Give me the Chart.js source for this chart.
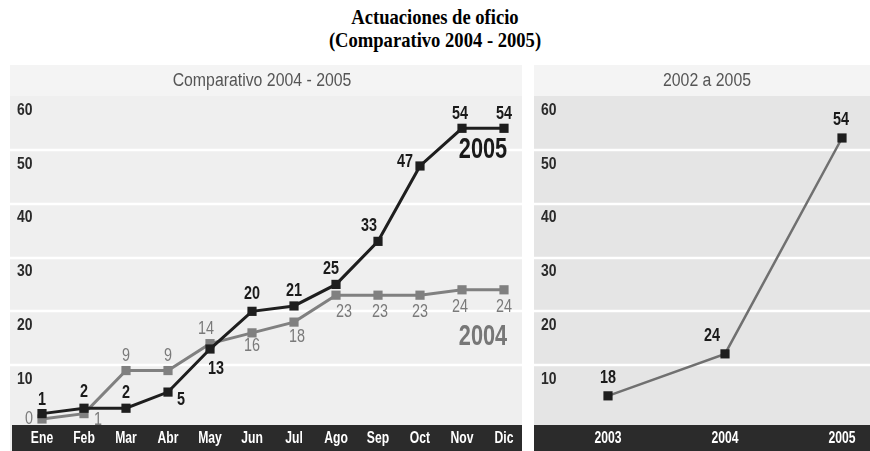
<!DOCTYPE html>
<html>
<head>
<meta charset="utf-8">
<script src="https://cdn.jsdelivr.net/npm/chart.js@4.4.1/dist/chart.umd.min.js"></script>
<style>
  html, body { margin: 0; padding: 0; background: #ffffff; }
  body { width: 870px; height: 451px; position: relative; overflow: hidden; }
  #title { position: absolute; left: 0; top: 5px; width: 870px; text-align: center;
    font-family: "Liberation Serif", "Times New Roman", serif; font-weight: bold;
    font-size: 22px; line-height: 23px; color: #000; transform: scaleX(0.845); transform-origin: 435px 0; }
  canvas { position: absolute; }
  #c1 { left: 10px; top: 65px; }
  #c2 { left: 534px; top: 65px; }
</style>
</head>
<body>
<div id="title">Actuaciones de oficio<br>(Comparativo 2004 - 2005)</div>
<canvas id="c1" width="512" height="386" style="width:512px;height:386px"></canvas>
<canvas id="c2" width="336" height="386" style="width:336px;height:386px"></canvas>
<script>
// ---- data ----
const months = ['Ene','Feb','Mar','Abr','May','Jun','Jul','Ago','Sep','Oct','Nov','Dic'];
const values2005 = [1, 2, 2, 5, 13, 20, 21, 25, 33, 47, 54, 54];
const values2004 = [0, 1, 9, 9, 14, 16, 18, 23, 23, 23, 24, 24];
const yTicks = [10, 20, 30, 40, 50, 60];
const years = ['2003', '2004', '2005'];
// heights at which the yearly points are drawn in the reference
const yearValues = [4.3, 12.1, 52.2];
// texts printed next to the yearly points
const yearLabels = ['18', '24', '54'];

// ---- label placement (styling only) ----
const off2005 = [[0,-14],[0,-16],[0,-15],[13,8],[6,20],[0,-17],[0,-15],[-5,-15],[-9,-15],[-15,-4],[-2,-14],[0,-14]];
const off2004 = [[-13,0],[14,6],[0,-15],[0,-15],[-4,-15],[0,13],[3,15],[8,17],[2,17],[0,17],[-2,17],[0,17]];
const offYears = [[0,-18],[-13,-18],[-1,-18]];

const SANS = '"Liberation Sans", Arial, Helvetica, sans-serif';
const BLACK = '#1e1e1e';
const GRAY = '#808080';

function txt(ctx, s, x, y, sx) {
  ctx.save();
  ctx.translate(x, y);
  ctx.scale(sx, 1);
  ctx.fillText(s, 0, 0);
  ctx.restore();
}

function panelPlugin(cfg) {
  return {
    id: 'panel_' + cfg.name,
    beforeDraw(chart) {
      const ctx = chart.ctx, W = chart.width, H = chart.height;
      const ca = chart.chartArea;
      const y = chart.scales.y;
      ctx.save();
      ctx.fillStyle = '#f4f4f4';
      ctx.fillRect(0, 0, W, ca.top);
      ctx.fillStyle = cfg.plotBg;
      ctx.fillRect(0, ca.top, W, H - ca.top);
      ctx.strokeStyle = '#ffffff';
      ctx.lineWidth = 2.5;
      yTicks.forEach(v => {
        if (v >= y.max) return;
        const py = Math.round(y.getPixelForValue(v));
        ctx.beginPath(); ctx.moveTo(0, py); ctx.lineTo(W, py); ctx.stroke();
      });
      const barTop = ca.bottom + 6;
      ctx.fillStyle = '#2b2b2b';
      ctx.fillRect(cfg.barLeft, barTop, W - cfg.barLeft, H - barTop);
      // header text
      ctx.fillStyle = '#555555';
      ctx.font = '18px ' + SANS;
      ctx.textAlign = 'center'; ctx.textBaseline = 'middle';
      txt(ctx, cfg.header, cfg.headerX, 16, 0.88);
      // y tick labels
      ctx.fillStyle = '#2a2a2a';
      ctx.font = 'bold 17px ' + SANS;
      ctx.textAlign = 'left';
      yTicks.forEach(v => {
        txt(ctx, String(v), cfg.tickX, y.getPixelForValue(v) + 14, 0.82);
      });
      // x labels
      const x = chart.scales.x;
      ctx.fillStyle = '#ffffff';
      ctx.font = 'bold 16px ' + SANS;
      ctx.textAlign = 'center';
      x.getLabels().forEach((lab, i) => {
        txt(ctx, lab, x.getPixelForValue(i), barTop + 14, 0.76);
      });
      ctx.restore();
    },
    afterDatasetsDraw(chart) {
      const ctx = chart.ctx;
      ctx.save();
      ctx.textAlign = 'center'; ctx.textBaseline = 'middle';
      cfg.labels.forEach(L => {
        const meta = chart.getDatasetMeta(L.ds);
        ctx.fillStyle = L.color;
        ctx.font = L.font;
        meta.data.forEach((pt, i) => {
          const o = L.offsets[i];
          txt(ctx, L.texts[i], pt.x + o[0], pt.y + o[1], 0.8);
        });
      });
      (cfg.big || []).forEach(b => {
        ctx.fillStyle = b.color;
        ctx.font = 'bold 29px ' + SANS;
        txt(ctx, b.text, b.x, chart.scales.y.getPixelForValue(b.v), 0.75);
      });
      ctx.restore();
    }
  };
}

const common = (pad) => ({
  responsive: false,
  animation: false,
  layout: { padding: pad },
  plugins: { legend: { display: false }, tooltip: { enabled: false } },
  scales: {
    x: { display: false, offset: false },
    y: { display: false, min: 0, max: 60 }
  }
});

new Chart(document.getElementById('c1'), {
  type: 'line',
  data: {
    labels: months,
    datasets: [
      { label: '2005', data: values2005, order: 0, borderColor: BLACK, backgroundColor: BLACK,
        borderWidth: 3, tension: 0, pointStyle: 'rect', pointRadius: 6.5, pointBorderWidth: 0,
        pointBackgroundColor: BLACK, clip: false },
      { label: '2004', data: values2004, order: 1, borderColor: GRAY, backgroundColor: GRAY,
        borderWidth: 3, tension: 0, pointStyle: 'rect', pointRadius: 6.5, pointBorderWidth: 0,
        pointBackgroundColor: GRAY, clip: false }
    ]
  },
  options: common({ left: 32, right: 18, top: 31, bottom: 32 }),
  plugins: [panelPlugin({
    name: 'left', plotBg: '#efefef', barLeft: 2, header: 'Comparativo 2004 - 2005', headerX: 252, tickX: 7,
    labels: [
      { ds: 0, texts: values2005.map(String), offsets: off2005, color: '#1a1a1a', font: 'bold 18px ' + SANS },
      { ds: 1, texts: values2004.map(String), offsets: off2004, color: '#7a7a7a', font: '18px ' + SANS }
    ],
    big: [
      { text: '2005', v: 50.0, x: 473, color: '#1a1a1a' },
      { text: '2004', v: 15.3, x: 473, color: '#777777' }
    ]
  })]
});

new Chart(document.getElementById('c2'), {
  type: 'line',
  data: {
    labels: years,
    datasets: [
      { label: '2002 a 2005', data: yearValues, borderColor: '#707070', backgroundColor: BLACK,
        borderWidth: 2.5, tension: 0, pointStyle: 'rect', pointRadius: 6.5, pointBorderWidth: 0,
        pointBackgroundColor: BLACK, clip: false }
    ]
  },
  options: common({ left: 74, right: 28, top: 31, bottom: 32 }),
  plugins: [panelPlugin({
    name: 'right', plotBg: '#e5e5e5', barLeft: 0, header: '2002 a 2005', headerX: 173, tickX: 7,
    labels: [
      { ds: 0, texts: yearLabels, offsets: offYears, color: '#1a1a1a', font: 'bold 18px ' + SANS }
    ]
  })]
});
</script>
</body>
</html>
